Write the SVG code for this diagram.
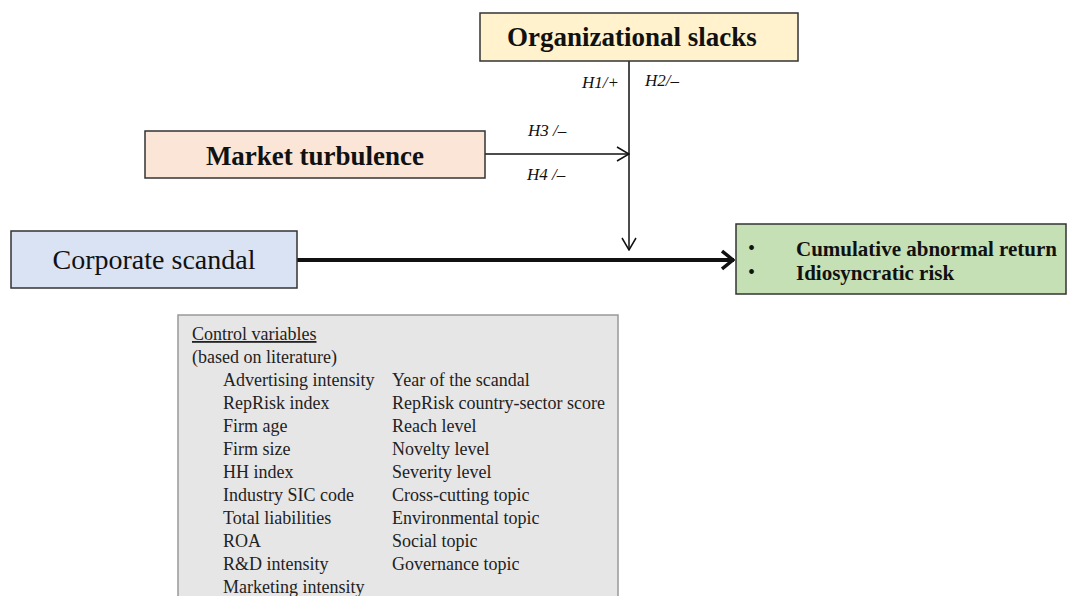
<svg xmlns="http://www.w3.org/2000/svg" width="1069" height="596" viewBox="0 0 1069 596">
<style>
.box{stroke:#333;stroke-width:1.5}
.t{font-family:"Liberation Serif","Times New Roman",serif;fill:#111}
.b{font-weight:bold}
.h{font-family:"Liberation Serif","Times New Roman",serif;font-style:italic;font-size:17px;fill:#111}
.c{font-family:"Liberation Serif","Times New Roman",serif;font-size:18px;fill:#222}
.ln{stroke:#111;stroke-width:1.5;fill:none}
</style>
<defs>
<marker id="open" viewBox="0 0 14 16" refX="13" refY="8" markerWidth="14" markerHeight="16" markerUnits="userSpaceOnUse" orient="auto">
<path d="M1,1 L13,8 L1,15" fill="none" stroke="#111" stroke-width="1.5"/>
</marker>
<marker id="thick" viewBox="0 0 14 22" refX="13" refY="11" markerWidth="14" markerHeight="22" markerUnits="userSpaceOnUse" orient="auto">
<path d="M1,2 L12,11 L1,20" fill="none" stroke="#111" stroke-width="3.5"/>
</marker>
</defs>
<rect width="1069" height="596" fill="#fff"/>
<g id="connectors">
<line class="ln" x1="629" y1="61" x2="629" y2="250" marker-end="url(#open)"/>
<line class="ln" x1="485" y1="154" x2="629" y2="154" marker-end="url(#open)"/>
<line x1="297" y1="260" x2="734" y2="260" stroke="#111" stroke-width="4" marker-end="url(#thick)"/>
<text class="h" x="582" y="88">H1/+</text>
<text class="h" x="645" y="86">H2/–</text>
<text class="h" x="528" y="136">H3 /–</text>
<text class="h" x="527" y="180">H4 /–</text>
</g>
<g id="org">
<rect class="box" x="480" y="13" width="318" height="48" fill="#FFF2CC"/>
<text class="t b" x="632" y="46" font-size="27" text-anchor="middle">Organizational slacks</text>
</g>
<g id="market">
<rect class="box" x="145" y="131" width="340" height="47" fill="#FBE5D6"/>
<text class="t b" x="315" y="165" font-size="27" text-anchor="middle">Market turbulence</text>
</g>
<g id="scandal">
<rect class="box" x="11" y="231" width="286" height="57" fill="#DAE3F3"/>
<text class="t" x="154" y="269" font-size="28" text-anchor="middle">Corporate scandal</text>
</g>
<g id="outcome">
<rect class="box" x="736" y="224" width="330" height="70" fill="#C5E0B4"/>
<text class="t" x="748" y="255" font-size="20">•</text>
<text class="t" x="748" y="279" font-size="20">•</text>
<text class="t b" x="796" y="256" font-size="21">Cumulative abnormal return</text>
<text class="t b" x="796" y="280" font-size="21">Idiosyncratic risk</text>
</g>
<g id="controls">
<rect x="178" y="315" width="440" height="290" fill="#E7E6E6" stroke="#999" stroke-width="1.5"/>
<text class="c" x="192" y="340" text-decoration="underline">Control variables</text>
<text class="c" x="192" y="363">(based on literature)</text>
<text class="c" x="223" y="386">Advertising intensity</text>
<text class="c" x="223" y="409">RepRisk index</text>
<text class="c" x="223" y="432">Firm age</text>
<text class="c" x="223" y="455">Firm size</text>
<text class="c" x="223" y="478">HH index</text>
<text class="c" x="223" y="501">Industry SIC code</text>
<text class="c" x="223" y="524">Total liabilities</text>
<text class="c" x="223" y="547">ROA</text>
<text class="c" x="223" y="570">R&amp;D intensity</text>
<text class="c" x="223" y="593">Marketing intensity</text>
<text class="c" x="392" y="386">Year of the scandal</text>
<text class="c" x="392" y="409">RepRisk country-sector score</text>
<text class="c" x="392" y="432">Reach level</text>
<text class="c" x="392" y="455">Novelty level</text>
<text class="c" x="392" y="478">Severity level</text>
<text class="c" x="392" y="501">Cross-cutting topic</text>
<text class="c" x="392" y="524">Environmental topic</text>
<text class="c" x="392" y="547">Social topic</text>
<text class="c" x="392" y="570">Governance topic</text>
</g>
</svg>
